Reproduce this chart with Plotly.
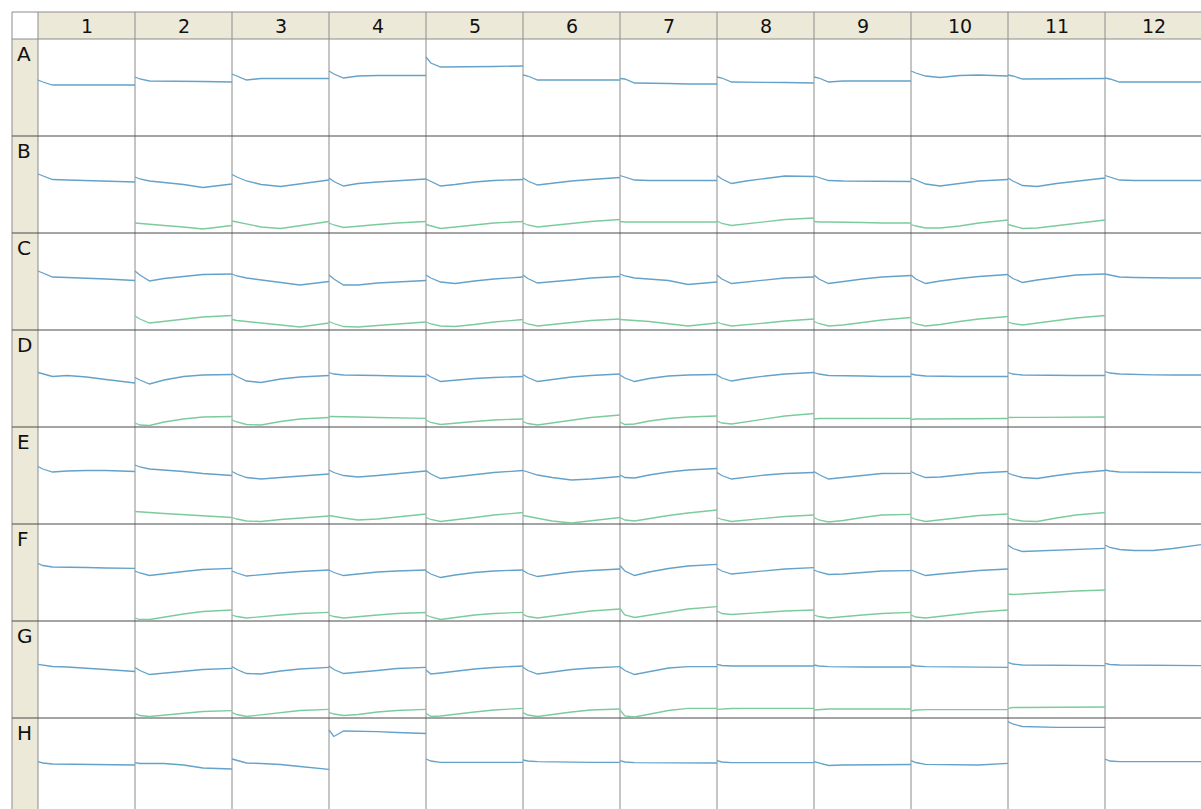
import plotly.graph_objects as go

# ---------------- data ----------------
ROW_LABELS = ["A", "B", "C", "D", "E", "F", "G", "H"]
COL_LABELS = ["1", "2", "3", "4", "5", "6", "7", "8", "9", "10", "11", "12"]

# sample positions (fraction of the read time) for each well trace
T = [0.0, 0.05, 0.15, 0.3, 0.5, 0.7, 1.0]

# trace level inside each well, 0 = top of well, 97 = bottom of well
BLUE_A = [
    [41, 43, 46, 46, 46, 46, 46],
    [38, 40, 42, 42, 42.5, 42.5, 43],
    [35, 37, 41, 39.5, 39.5, 39.5, 39.5],
    [32, 35, 39, 37, 36.5, 36.5, 36.5],
    [18, 24, 28, 28, 27.5, 27.5, 27],
    [36, 37, 41, 41, 41, 41, 41],
    [39.5, 40, 44, 44, 44.5, 45, 45],
    [38, 39, 43, 43, 43, 43.5, 44],
    [38, 39, 43, 42, 42, 42, 42],
    [32, 34, 37, 38.5, 36.5, 36, 37],
    [36, 37, 40, 40, 40, 40, 39.5],
    [39, 40, 43, 43, 43, 43, 43],
]
BLUE_B = [
    [38, 40, 43.5, 44, 44.5, 45, 46],
    [41, 43, 45, 46.5, 48.5, 51.5, 48],
    [38.5, 41, 45, 48.5, 50.5, 48, 44],
    [42, 45.5, 50, 47.5, 46, 44.5, 43],
    [43, 45.5, 50, 48.5, 46, 44.5, 43.5],
    [42, 45, 49, 47, 45, 43.5, 41.5],
    [39.5, 41, 44, 44.5, 44.5, 44.5, 44.5],
    [39.5, 43, 47.5, 45, 42.5, 40, 40.5],
    [40, 41.5, 44.5, 45, 45, 45, 45.5],
    [42, 44, 48, 50, 47.5, 45, 43.5],
    [42, 45, 49.5, 50.5, 47.5, 45, 42],
    [39.5, 41, 44, 44.5, 44.5, 44.5, 44.5],
]
GREEN_B = [
    None,
    [87, 87.5, 88.5, 89.5, 91, 93, 89.5],
    [85, 86, 88, 91, 92.5, 90, 85.5],
    [87, 89, 91.5, 90, 88.5, 87, 85.5],
    [88.5, 90, 92.5, 91, 89, 87, 85.5],
    [87, 89, 91, 89.5, 87.5, 85.5, 83.5],
    [85.5, 86, 86, 86, 86.5, 86, 86],
    [85, 87.5, 89.5, 88, 85.5, 83.5, 82],
    [85.5, 86, 86, 86.5, 86.5, 87, 87],
    [88.5, 90, 92, 92, 90, 87, 84],
    [88.5, 90, 92.5, 92, 89.5, 87, 84],
    None,
]
BLUE_C = [
    [38, 40, 44, 44.5, 45, 46, 47.5],
    [38, 42, 48, 45.5, 43.5, 41.5, 41],
    [41, 43, 45, 47, 49.5, 52, 48.5],
    [42, 46, 52, 52, 50, 49, 47.5],
    [42, 45, 49, 50.5, 48, 46, 44],
    [42, 45.5, 50, 49, 47, 45, 43.5],
    [41, 43, 45, 46, 47.5, 51.5, 49],
    [42, 46, 50.5, 49, 47, 45, 44],
    [42, 46, 50.5, 48.5, 46, 44, 42.5],
    [42, 46, 50.5, 48, 45.5, 43.5, 41.5],
    [42, 45.5, 49.5, 47, 44.5, 42, 41],
    [41, 42, 44, 44.5, 45, 45, 45],
]
GREEN_C = [
    None,
    [83, 86, 90, 88.5, 86, 84, 82.5],
    [86.5, 87.5, 88.5, 90, 92, 94, 90],
    [88.5, 90.5, 93.5, 94, 92.5, 91, 89],
    [89, 91, 93, 93.5, 91.5, 89, 86.5],
    [89, 91, 93, 91.5, 89.5, 87.5, 86],
    [86.5, 87, 87.5, 88.5, 90.5, 93, 90],
    [89, 91, 93, 92, 90, 88, 86],
    [88.5, 90.5, 93, 92, 89.5, 87, 84.5],
    [89, 91, 93, 91.5, 88.5, 86, 83.5],
    [89, 90.5, 92, 90, 87.5, 85, 82.5],
    None,
]
BLUE_D = [
    [42.5, 44, 46.5, 45.5, 47, 49.5, 53],
    [47.5, 50, 54, 50, 46.5, 45, 44.5],
    [43.5, 46.5, 51, 52.5, 49, 47, 45.5],
    [42.5, 44, 45, 45.5, 45.5, 46, 46.5],
    [44, 47, 51.5, 50, 48.5, 47.5, 46.5],
    [44.5, 47.5, 51.5, 49.5, 47, 45.5, 44],
    [45, 48, 51.5, 48.5, 46, 45, 44.5],
    [45, 48, 51, 48.5, 46, 44, 42.5],
    [42.5, 44, 45.5, 46, 46, 46.5, 46.5],
    [44, 45, 46, 46.5, 46.5, 46.5, 46.5],
    [42.5, 44, 45, 45.3, 45.5, 45.5, 45.5],
    [41.5, 43, 44, 44.5, 44.8, 45, 45],
]
GREEN_D = [
    None,
    [93, 95, 95.5, 92, 89, 87, 86.5],
    [90, 92, 94.5, 95, 91.5, 89, 87.5],
    [86.5, 86.5, 87, 87, 87.5, 88, 88.3],
    [90, 92.5, 94.5, 93, 91.5, 90, 89],
    [91.5, 93.5, 95, 93, 90, 87.5, 85],
    [92, 94.5, 94, 91, 88.5, 87, 86],
    [91, 93, 94, 92, 89, 86, 83.5],
    [89, 88.5, 88.5, 88.5, 88.5, 88.3, 88.3],
    [89.5, 89, 89, 89, 88.7, 88.7, 88.5],
    [87.5, 87.3, 87.3, 87.3, 87.3, 87.2, 87],
    None,
]
BLUE_E = [
    [39.5, 42, 45, 44, 43.5, 43.5, 44.5],
    [38, 40, 42, 43, 44.5, 46.5, 48.5],
    [44.5, 47, 50.5, 52, 50.5, 49, 47],
    [43, 45.5, 48.5, 50, 48.5, 46.5, 44],
    [43.5, 47, 51.5, 50, 47.5, 45.5, 43.5],
    [43.5, 45, 48, 50.5, 53, 52, 49.5],
    [48, 50.5, 51, 48, 45, 43, 41.5],
    [45.5, 48.5, 52, 50, 48, 46.5, 45.5],
    [44.5, 47.5, 52, 50.5, 48, 46.5, 46.3],
    [44.5, 47, 50.5, 50, 48, 46, 44.5],
    [46, 48, 50.5, 51.5, 48.5, 46, 43.5],
    [43, 44, 45, 45, 45.3, 45.3, 45.5],
]
GREEN_E = [
    None,
    [84.5, 85, 85.5, 86.5, 87.5, 89, 90.5],
    [90.5, 92, 94, 94.5, 92.5, 91, 89],
    [88.5, 89.5, 91, 93, 92, 90, 87],
    [90.5, 92.5, 94.5, 93, 90.5, 88, 85.5],
    [88.5, 89.5, 91.5, 94, 96, 94, 90.5],
    [90.5, 93, 94, 91.5, 88.5, 86, 83],
    [90.5, 92.5, 94.5, 93, 91, 89.5, 88],
    [90.5, 93, 95, 93.5, 90.5, 88, 87.3],
    [90.5, 92.5, 94.5, 93, 90.5, 88.5, 87],
    [91, 92.5, 94, 94.5, 91, 88, 85.5],
    None,
]
BLUE_F = [
    [39.5, 41.5, 43, 43.5, 43.5, 44, 44.3],
    [47, 49, 51.5, 49.5, 47.5, 45.5, 44.3],
    [47, 49, 52, 51, 49, 47.5, 46],
    [46, 48.5, 51.5, 50, 48, 47, 46],
    [47, 50, 53.5, 51, 48.5, 47, 46],
    [46.5, 49.5, 52.5, 50.5, 48, 46.5, 45],
    [41.5, 47, 51.5, 48, 44.5, 42, 40.3],
    [44.3, 47, 50, 48.5, 46.5, 45, 43.7],
    [46, 48, 50.5, 50, 48.5, 47, 46.7],
    [46, 48, 51.5, 50, 48, 46.5, 45],
    [21, 24.5, 27.5, 27, 26, 25, 24.3],
    [21, 23.5, 25.5, 26.5, 26.5, 24.5, 20.5],
]
GREEN_F = [
    None,
    [94, 95.5, 95.5, 93, 90, 87.5, 86],
    [91, 92.5, 94, 93, 91, 89.5, 88.3],
    [91, 92.5, 94, 93, 91, 89.5, 88.5],
    [91, 93, 95.5, 93.5, 91, 89.5, 88.3],
    [90.3, 92.5, 94, 92, 89.5, 87, 85],
    [84.5, 91, 93.5, 91, 88, 85, 82.7],
    [87, 89.5, 90.5, 89.5, 88, 87, 86],
    [91, 92.5, 94, 93, 91, 89.5, 88.3],
    [91, 93, 94, 92.5, 90, 88, 86],
    [70, 70.5, 70, 69, 68, 67, 66],
    None,
]
BLUE_G = [
    [43.3, 44, 45.5, 46, 47, 48.5, 50.5],
    [46.5, 49.5, 53.5, 52, 50, 48.5, 47.3],
    [45.5, 48.5, 52.5, 53, 50, 48, 46.3],
    [45, 48.5, 52.5, 51.5, 49.5, 47.5, 46.3],
    [49, 53, 52, 50, 48, 46.5, 45],
    [46.3, 49.5, 53, 51, 48.5, 47, 45.7],
    [45.7, 49.5, 53.5, 50.5, 47, 45.7, 45.7],
    [43.3, 44.5, 45, 45, 45, 45, 45],
    [44, 45, 45.7, 46, 46, 46, 46],
    [44, 45, 45.7, 45.7, 46, 46.3, 46.3],
    [41.3, 43, 44, 44, 44.3, 44.5, 44.7],
    [42.3, 43.5, 44, 44, 44.3, 44.5, 44.7],
]
GREEN_G = [
    None,
    [92.3, 94.5, 95.5, 94, 92, 90.5, 89.7],
    [91.7, 93.5, 95.5, 94, 91.5, 89.5, 88.3],
    [91.3, 93, 94.5, 93.5, 91, 89.5, 88.3],
    [92.3, 95.5, 95, 93, 91, 89, 87.3],
    [91.7, 94, 95.5, 93.5, 91, 89, 88],
    [89, 95, 96, 93, 89.5, 87.3, 87.3],
    [88.3, 88, 87.5, 87.3, 87.3, 87.3, 87.3],
    [89, 88.5, 88, 88, 88, 88, 88],
    [90, 89, 88.7, 88.7, 88.7, 88.7, 88.7],
    [87.3, 86.5, 86.5, 86.3, 86.3, 86, 86],
    None,
]
BLUE_H = [
    [43.7, 45, 46, 46.3, 46.5, 46.7, 47],
    [44.7, 45.5, 45.5, 45.5, 47, 50, 51],
    [41, 42.5, 45, 45.5, 46.5, 48.5, 51.3],
    [12, 18.5, 13, 13, 13.7, 14.5, 15.5],
    [41, 43, 44.3, 44.3, 44.3, 44.3, 44.3],
    [42, 43, 43.7, 44, 44.3, 44.3, 44.3],
    [42.7, 44, 44.7, 44.7, 45, 45, 45],
    [42.7, 44, 44.7, 44.7, 44.7, 44.7, 44.7],
    [43.7, 45, 47.5, 47, 47, 46.7, 46.5],
    [42.7, 44.5, 46.3, 46.5, 47, 47, 45.3],
    [3.7, 6, 8.5, 9, 9.3, 9.3, 9.3],
    [41, 43, 43.7, 43.7, 44, 44, 43.7],
]
GREEN_H = [None] * 12
GREEN_A = [None] * 12

BLUE_ROWS = [BLUE_A, BLUE_B, BLUE_C, BLUE_D, BLUE_E, BLUE_F, BLUE_G, BLUE_H]
GREEN_ROWS = [GREEN_A, GREEN_B, GREEN_C, GREEN_D, GREEN_E, GREEN_F, GREEN_G, GREEN_H]
WELL_SCALE = 97.0  # level units per well

# ---------------- layout constants (pixels) ----------------
W, H = 1201, 809
CELL = 97.0
X0, Y0 = 38.0, 39.0      # top-left of well A1
OUTER = 12.0             # outer border position

def px_x(p):
    return (p - X0) / CELL

def px_y(p):
    return (p - Y0) / CELL

BLUE = "#64a2ca"
GREEN = "#7ccb9c"
BEIGE = "#ece9d8"
VLINE = "#8c8c8c"
HLINE = "#4a4a4a"

fig = go.Figure()

def build(rows):
    xs, ys = [], []
    for r, row in enumerate(rows):
        for c, vals in enumerate(row):
            if vals is None:
                continue
            for t, v in zip(T, vals):
                xs.append(c + t)
                ys.append(r + v / WELL_SCALE)
            xs.append(None)
            ys.append(None)
    return xs, ys

gx, gy = build(GREEN_ROWS)
bx, by = build(BLUE_ROWS)
fig.add_trace(go.Scatter(x=gx, y=gy, mode="lines", line=dict(color=GREEN, width=1.3),
                         hoverinfo="skip", showlegend=False, connectgaps=False))
fig.add_trace(go.Scatter(x=bx, y=by, mode="lines", line=dict(color=BLUE, width=1.3),
                         hoverinfo="skip", showlegend=False, connectgaps=False))

ncol, nrow = len(COL_LABELS), len(ROW_LABELS)
shapes = []
top_h = px_y(OUTER)
left_w = px_x(OUTER)
# header band
shapes.append(dict(type="rect", xref="x", yref="y", x0=0, x1=ncol, y0=top_h, y1=0,
                   fillcolor=BEIGE, line=dict(width=0), layer="below"))
# row label band
shapes.append(dict(type="rect", xref="x", yref="y", x0=left_w, x1=0, y0=0, y1=nrow,
                   fillcolor=BEIGE, line=dict(width=0), layer="below"))
# vertical lines
for c in range(ncol + 1):
    shapes.append(dict(type="line", xref="x", yref="y", x0=c, x1=c, y0=top_h, y1=nrow,
                       line=dict(color=VLINE, width=1), layer="below"))
shapes.append(dict(type="line", xref="x", yref="y", x0=left_w, x1=left_w, y0=top_h, y1=nrow,
                   line=dict(color=VLINE, width=1), layer="below"))
# horizontal lines
shapes.append(dict(type="line", xref="x", yref="y", x0=left_w, x1=ncol, y0=top_h, y1=top_h,
                   line=dict(color=VLINE, width=1), layer="below"))
shapes.append(dict(type="line", xref="x", yref="y", x0=left_w, x1=ncol, y0=0, y1=0,
                   line=dict(color=VLINE, width=1), layer="below"))
for r in range(1, nrow + 1):
    shapes.append(dict(type="line", xref="x", yref="y", x0=left_w, x1=ncol, y0=r, y1=r,
                       line=dict(color=HLINE, width=1), layer="below"))

annotations = []
for c, lab in enumerate(COL_LABELS):
    annotations.append(dict(x=c + 0.5, y=top_h / 2, xref="x", yref="y", text=lab,
                            showarrow=False, xanchor="center", yanchor="middle", yshift=0,
                            font=dict(family="DejaVu Sans", size=19, color="#111111")))
for r, lab in enumerate(ROW_LABELS):
    annotations.append(dict(x=left_w, y=r, xref="x", yref="y", text=lab,
                            showarrow=False, xanchor="left", yanchor="top", xshift=3, yshift=-1,
                            font=dict(family="DejaVu Sans", size=20, color="#111111")))

fig.update_layout(
    width=W, height=H, autosize=False,
    margin=dict(l=0, r=0, t=0, b=0, pad=0),
    paper_bgcolor="white", plot_bgcolor="white",
    shapes=shapes, annotations=annotations,
    xaxis=dict(range=[px_x(0), px_x(W)], visible=False, fixedrange=True),
    yaxis=dict(range=[px_y(H), px_y(0)], visible=False, fixedrange=True),
)

fig.write_html("out.html", config={"displayModeBar": False, "staticPlot": True},
               post_script="document.body.style.margin='0';document.body.style.overflow='hidden';")
